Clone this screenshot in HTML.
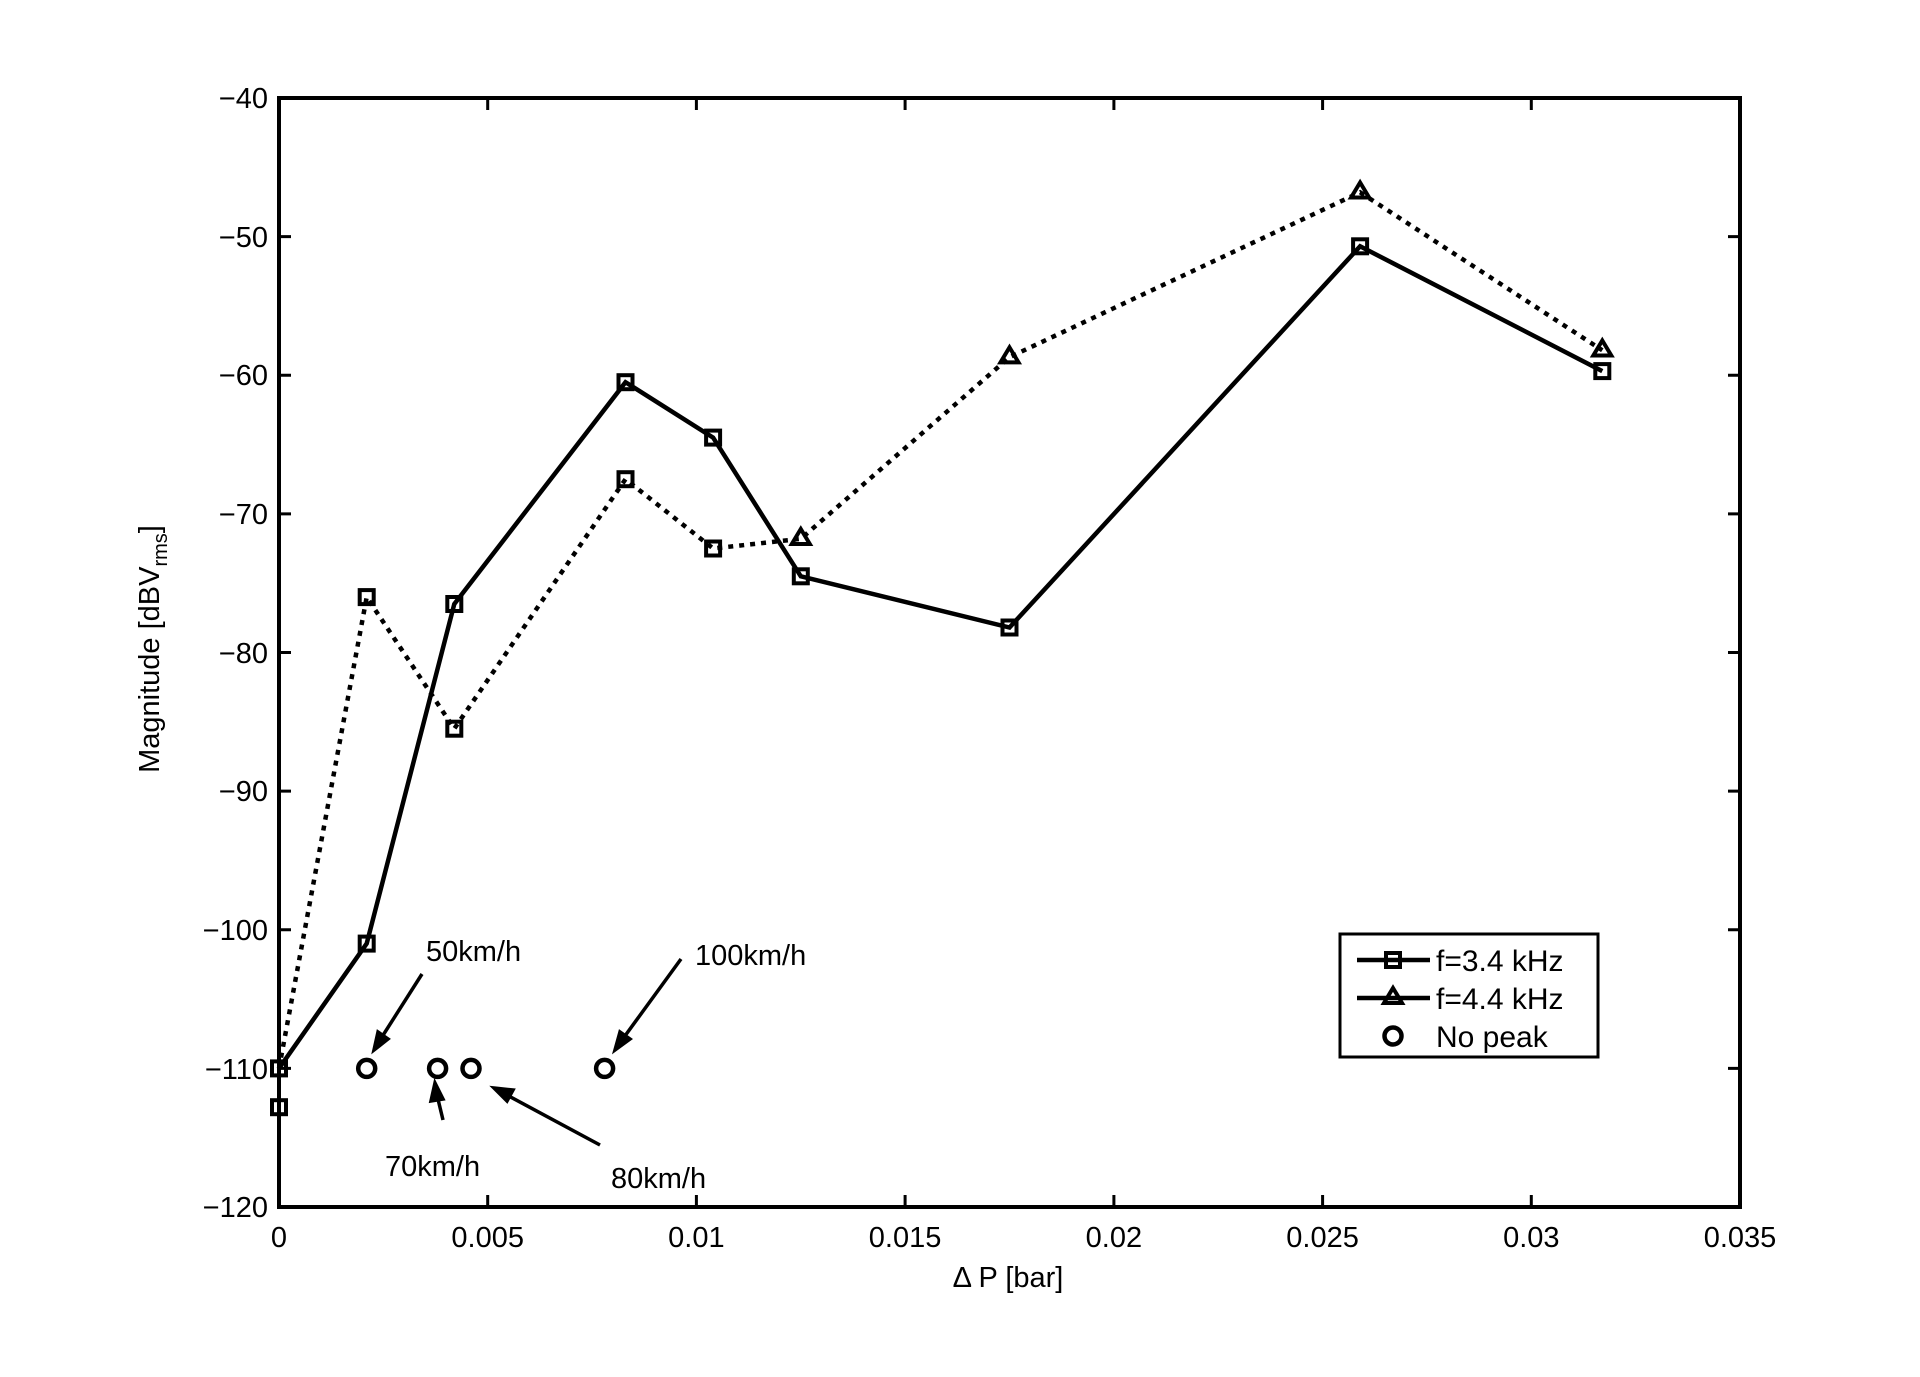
<!DOCTYPE html>
<html><head><meta charset="utf-8"><style>
html,body{margin:0;padding:0;background:#fff;}
svg{display:block;font-family:"Liberation Sans",sans-serif;}
</style></head><body>
<svg width="1920" height="1377" viewBox="0 0 1920 1377" xmlns="http://www.w3.org/2000/svg">
<rect width="1920" height="1377" fill="#fff"/>
<g stroke="#000" stroke-width="3">
<rect x="279" y="98" width="1461" height="1109" fill="none" stroke-width="4"/>
<path d="M487.7 1207v-12M696.4 1207v-12M905.1 1207v-12M1113.9 1207v-12M1322.6 1207v-12M1531.3 1207v-12
M487.7 98v12M696.4 98v12M905.1 98v12M1113.9 98v12M1322.6 98v12M1531.3 98v12
M279 236.6h12M279 375.3h12M279 513.9h12M279 652.5h12M279 791.1h12M279 929.8h12M279 1068.4h12
M1740 236.6h-12M1740 375.3h-12M1740 513.9h-12M1740 652.5h-12M1740 791.1h-12M1740 929.8h-12M1740 1068.4h-12"/>
</g>
<g font-size="29" text-anchor="end" fill="#000">
<text x="268" y="108">−40</text><text x="268" y="247">−50</text><text x="268" y="385">−60</text>
<text x="268" y="524">−70</text><text x="268" y="663">−80</text><text x="268" y="801">−90</text>
<text x="268" y="940">−100</text><text x="268" y="1079">−110</text><text x="268" y="1217">−120</text>
</g>
<g font-size="29" text-anchor="middle" fill="#000">
<text x="279" y="1247">0</text><text x="487.7" y="1247">0.005</text><text x="696.4" y="1247">0.01</text>
<text x="905.1" y="1247">0.015</text><text x="1113.9" y="1247">0.02</text><text x="1322.6" y="1247">0.025</text>
<text x="1531.3" y="1247">0.03</text><text x="1740" y="1247">0.035</text>
<text x="1008" y="1287">Δ P [bar]</text>
<text transform="translate(159,649) rotate(-90)">Magnitude [dBV<tspan font-size="20" dy="8">rms</tspan><tspan dy="-8">]</tspan></text>
</g>
<polyline fill="none" stroke="#000" stroke-width="4.5" stroke-dasharray="5 6" points="279,1068.4 366.7,597.1 454.3,728.7 625.5,479.2 713.1,548.5 800.8,538.8 1009.5,357.2 1360.1,192.3 1602.3,350.3"/>
<polyline fill="none" stroke="#000" stroke-width="4.5" points="279,1068.4 366.7,943.6 454.3,604 625.5,382.2 713.1,437.6 800.8,576.3 1009.5,627.5 1360.1,246.3 1602.3,371.1"/>
<g fill="none" stroke="#000" stroke-width="4">
<rect x="272" y="1061.4" width="14" height="14"/><rect x="272" y="1100.2" width="14" height="14"/>
<rect x="359.7" y="936.6" width="14" height="14"/><rect x="447.3" y="597" width="14" height="14"/>
<rect x="618.5" y="375.2" width="14" height="14"/><rect x="706.1" y="430.6" width="14" height="14"/>
<rect x="793.8" y="569.3" width="14" height="14"/><rect x="1002.5" y="620.5" width="14" height="14"/>
<rect x="1353.1" y="239.3" width="14" height="14"/><rect x="1595.3" y="364.1" width="14" height="14"/>
<rect x="359.7" y="590.1" width="14" height="14"/><rect x="447.3" y="721.7" width="14" height="14"/>
<rect x="618.5" y="472.2" width="14" height="14"/><rect x="706.1" y="541.5" width="14" height="14"/>
<path d="M800.8 529l9 15h-18zM1009.5 347.4l9 15h-18zM1360.1 182.5l9 15h-18zM1602.3 340.5l9 15h-18z"/>
<circle cx="366.7" cy="1068.4" r="8.5" stroke-width="4.5"/><circle cx="437.6" cy="1068.4" r="8.5" stroke-width="4.5"/>
<circle cx="471" cy="1068.4" r="8.5" stroke-width="4.5"/><circle cx="604.6" cy="1068.4" r="8.5" stroke-width="4.5"/>
</g>
<g stroke="#000" stroke-width="3.5" fill="#000">
<line x1="422" y1="974" x2="380" y2="1040"/><path d="M374 1050l4-18 10 7z"/>
<line x1="681" y1="959" x2="622" y2="1040"/><path d="M615 1050l5-18 10 7z"/>
<line x1="443" y1="1120" x2="437" y2="1095"/><path d="M435 1083l8 16-12 2z"/>
<line x1="600" y1="1145" x2="505" y2="1094"/><path d="M494 1088l19 2-6 11z"/>
</g>
<g font-size="29" fill="#000">
<text x="426" y="961">50km/h</text><text x="695" y="965">100km/h</text>
<text x="385" y="1176">70km/h</text><text x="611" y="1188">80km/h</text>
</g>
<rect x="1340" y="934" width="258" height="123" fill="#fff" stroke="#000" stroke-width="3"/>
<g stroke="#000" stroke-width="4.5" fill="none">
<line x1="1357" y1="960" x2="1430" y2="960"/><rect x="1386" y="953" width="14" height="14" stroke-width="4"/>
<line x1="1357" y1="998" x2="1430" y2="998"/><path d="M1393 988l9 15h-18z" stroke-width="4"/>
<circle cx="1393" cy="1036" r="8.5"/>
</g>
<g font-size="30" fill="#000">
<text x="1436" y="971">f=3.4 kHz</text><text x="1436" y="1009">f=4.4 kHz</text><text x="1436" y="1047">No peak</text>
</g>
</svg>
</body></html>
